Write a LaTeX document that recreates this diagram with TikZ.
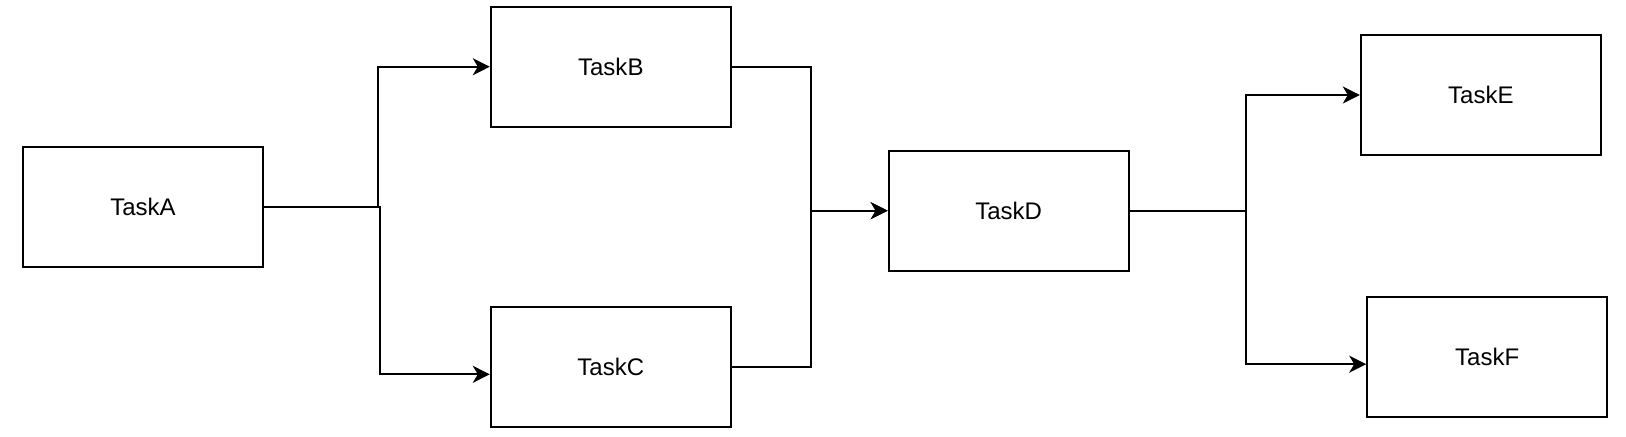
\documentclass[tikz,border=0pt]{standalone}
\usepackage{fontspec}
\setmainfont{Liberation Sans}
\usepackage{tikz}
\usetikzlibrary{arrows.meta}
\tikzset{
  taskbox/.style={draw, line width=1pt, minimum width=120pt,
                  minimum height=60pt, inner sep=0pt,
                  font=\fontsize{12}{14}\selectfont},
  arr/.style    ={-{Stealth[length=8.5pt,width=8.5pt,inset=2.5pt]},
                  line width=1pt},
}
\begin{document}
\begin{tikzpicture}[x=0.5pt,y=-0.5pt]
  \useasboundingbox (0,0) rectangle (1626,436);
  \node[taskbox] (ta) at (143,206.7)    {TaskA};
  \node[taskbox] (tb) at (610.8,66.7)   {TaskB};
  \node[taskbox] (tc) at (610.8,366.7)  {TaskC};
  \node[taskbox] (td) at (1008.7,210.7) {TaskD};
  \node[taskbox] (te) at (1480.8,95)    {TaskE};
  \node[taskbox] (tf) at (1487.2,357)   {TaskF};
  % A fans out to B and C
  \draw[arr](ta.east)--++(113.5,0)|-(tb.west);
  \draw[arr](ta.east)--++(116,0)|-([yshift=-3.8pt]tc.west);
  % B and C join into D
  \draw[arr](tb.east)--++(79,0)|-(td.west);
  \draw[arr](tc.east)--++(79,0)|-(td.west);
  % D fans out to E and F
  \draw[arr](td.east)--++(116,0)|-(te.west);
  \draw[arr](td.east)--++(116,0)|-([yshift=-3.6pt]tf.west);
\end{tikzpicture}
\end{document}
